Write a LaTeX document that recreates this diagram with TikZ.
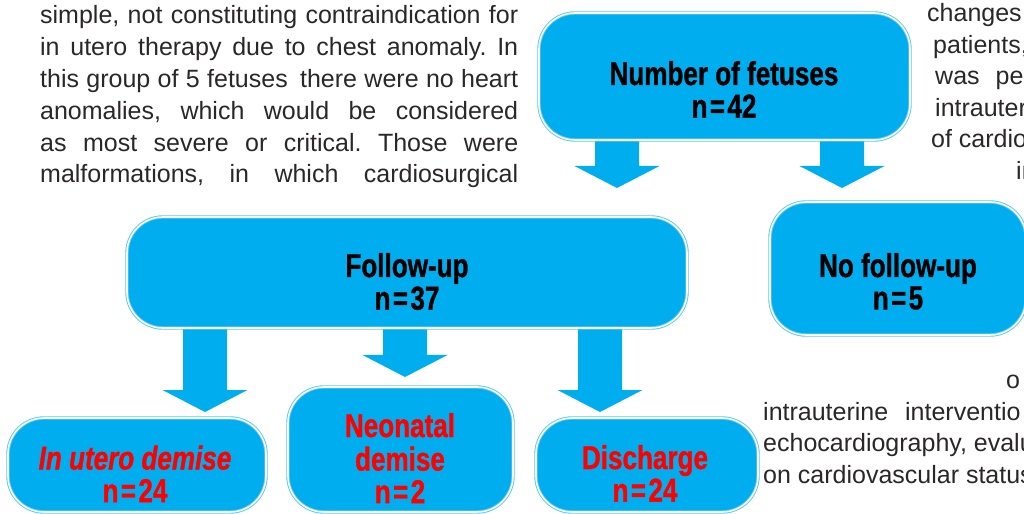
\documentclass[tikz,border=0pt]{standalone}
\usepackage{fontspec}
\usepackage{graphicx}
\setmainfont{Liberation Sans}
\newfontfamily\heavyfont{Liberation Sans}[BoldFeatures={FakeBold=1.2}, BoldItalicFeatures={FakeBold=1.2}]
\usetikzlibrary{calc}
\frenchspacing
\definecolor{boxcyan}{HTML}{00AEEF}
\definecolor{boxedge}{HTML}{5CC6F2}
\definecolor{bodytext}{HTML}{2B2728}
\definecolor{redtext}{HTML}{FF0000}
\newcommand{\bodysize}{\fontsize{25bp}{32bp}\selectfont}
\newcommand{\boxsize}{\heavyfont\fontsize{33bp}{32bp}\selectfont\bfseries}
\newcommand{\boxtext}[1]{\scalebox{0.79}[1]{\begin{tabular}[t]{@{}c@{}}#1\end{tabular}}}
\newcommand{\eqsign}{\kern3bp=\kern3bp}
\newcommand{\blockarrow}[2]{%
  \fill[arrowfill] ($(#2 |- #1.south)+(-22,-4)$) -- ($(#2 |- #1.south)+(22,-4)$)
    -- ($(#2)+(22,-22)$) -- ($(#2)+(42.5,-22)$) -- (#2)
    -- ($(#2)+(-42.5,-22)$) -- ($(#2)+(-22,-22)$) -- cycle;}
\begin{document}
\begin{tikzpicture}[x=1bp,y=-1bp,
  box/.style={draw=boxedge, double=white, double distance=1.6bp, line width=0.9bp,
    fill=boxcyan, rounded corners=36bp, inner sep=0pt},
  arrowfill/.style={fill=boxcyan},
  boxlabel/.style={font=\boxsize, inner sep=0pt, anchor=base},
  body/.style={font=\bodysize, text=bodytext, inner sep=0pt, anchor=base west}]
\useasboundingbox (0,0) rectangle (1024,514);
\clip (0,0) rectangle (1024,514);

% surrounding page text
\node[body] (l1) at (40,24) {\makebox[478bp][s]{simple, not constituting contraindication for}};
\node[body] (l2) at (40,55.8) {\makebox[478bp][s]{in utero therapy due to chest anomaly. In}};
\node[body] (l3) at (40,87.6) {\makebox[478bp][s]{this group of 5 fetuses\hspace{5bp} there were no heart}};
\node[body] (l4) at (40,119.4) {\makebox[478bp][s]{anomalies, which would be considered}};
\node[body] (l5) at (40,151.2) {\makebox[478bp][s]{as most severe or critical. Those were}};
\node[body] (l6) at (40,183) {\makebox[478bp][s]{malformations, in which cardiosurgical}};

\node[body] (r1) at (927,22) {changes};
\node[body] (r2) at (933,53.5) {patients,};
\node[body] (r3) at (935,85) {was\hspace{16bp}pe};
\node[body] (r4) at (935,116.5) {intrauter};
\node[body] (r5) at (931,148) {of cardio};
\node[body] (r6) at (1016,179.5) {in};
\node[body] (r7) at (1006,388.5) {o};
\node[body] (r8) at (763,420) {intrauterine\hspace{10bp} interventio};
\node[body] (r9) at (763,451.5) {echocardiography, evalu};
\node[body] (r10) at (763,483) {on cardiovascular status};

% arrow tips
\coordinate (t1) at (617,188);
\coordinate (t2) at (842,188);
\coordinate (t3) at (205,412);
\coordinate (t4) at (405,377);
\coordinate (t5) at (600,412);

% boxes (shapes only, for anchors)
\path (724.5,76.5) node[minimum width=371bp, minimum height=127bp, inner sep=0pt] (num) {};
\path (407,272.5) node[minimum width=560bp, minimum height=111bp, inner sep=0pt] (fu) {};

\blockarrow{num}{t1}
\blockarrow{num}{t2}
\blockarrow{fu}{t3}
\blockarrow{fu}{t4}
\blockarrow{fu}{t5}

\node[box, minimum width=371bp, minimum height=127bp] (numbox) at (num) {};
\node[box, minimum width=560bp, minimum height=111bp] (fubox) at (fu) {};
\node[box, minimum width=256bp, minimum height=133bp] (nofu) at (898,268.5) {};
\node[box, minimum width=258bp, minimum height=94bp] (utero) at (137,465) {};
\node[box, minimum width=225bp, minimum height=125bp] (neo) at (400.5,449.5) {};
\node[box, minimum width=222bp, minimum height=94bp] (dis) at (647,465) {};

% labels
\node[boxlabel] (numtxt) at (724,85) {\boxtext{Number of fetuses\\ n\eqsign42}};
\node[boxlabel] (futxt) at (407,277) {\boxtext{Follow-up\\ n\eqsign37}};
\node[boxlabel] (nofutxt) at (898,277) {\boxtext{No follow-up\\ n\eqsign5}};
\node[boxlabel, text=redtext] (uterotxt) at (135,469.5) {\boxtext{\itshape In utero demise\\ n\eqsign24}};
\node[boxlabel, text=redtext] (neotxt) at (400,437) {\boxtext{Neonatal\\ demise\\ n\eqsign2}};
\node[boxlabel, text=redtext] (distxt) at (645,469) {\boxtext{Discharge\\ n\eqsign24}};
\end{tikzpicture}
\end{document}
